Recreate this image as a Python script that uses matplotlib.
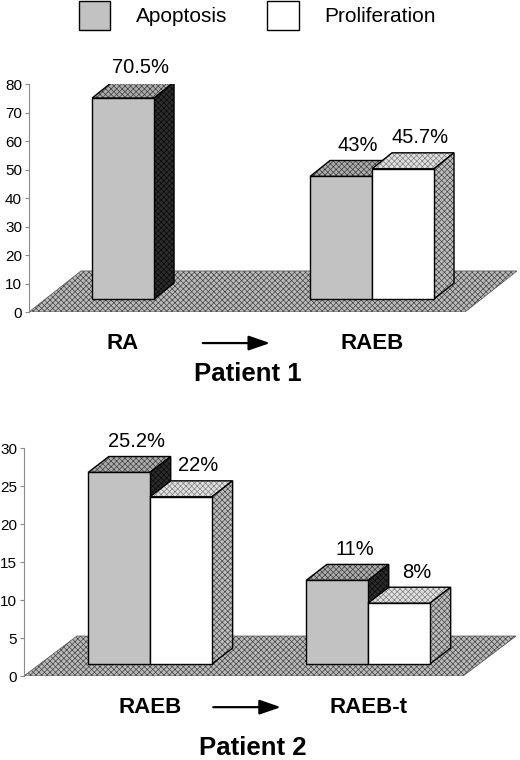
import matplotlib
matplotlib.use("Agg")
import matplotlib.pyplot as plt
from matplotlib.patches import Polygon, Patch

plt.rcParams['font.family'] = ['Liberation Sans', 'DejaVu Sans']
plt.rcParams['hatch.linewidth'] = 0.5

# data
series = ["Apoptosis", "Proliferation"]
p1_stages = ["RA", "RAEB"]
p1_apoptosis = [70.5, 43.0]
p1_proliferation = [None, 45.7]
p1_ticks = [0, 10, 20, 30, 40, 50, 60, 70, 80]
p2_stages = ["RAEB", "RAEB-t"]
p2_apoptosis = [25.2, 11.0]
p2_proliferation = [22.0, 8.0]
p2_ticks = [0, 5, 10, 15, 20, 25, 30]

# styles: (face, hatch colour)
FRONT = {"Apoptosis": ("#c2c2c2", None), "Proliferation": ("#ffffff", None)}
TOP = {"Apoptosis": ("#acacac", "#404040"), "Proliferation": ("#e0e0e0", "#808080")}
SIDE = {"Apoptosis": ("#2c2c2c", "#0a0a0a"), "Proliferation": ("#bcbcbc", "#4a4a4a")}
FLOOR = ("#bababa", "#454545")


def face(ax, pts, style, edge=True, z=2):
    fc, hc = style
    if hc is None:
        ax.add_patch(Polygon(pts, closed=True, facecolor=fc, edgecolor="black",
                             lw=1.0 if edge else 0, zorder=z))
        return
    ax.add_patch(Polygon(pts, closed=True, facecolor=fc, edgecolor=hc,
                         hatch="xxxxxx", lw=0, zorder=z))
    ax.add_patch(Polygon(pts, closed=True, fill=False,
                         edgecolor="black" if edge else "#606060",
                         lw=1.0 if edge else 0.6, zorder=z))


def box(ax, xc, w, base, h, dx, dy, name, z):
    xl, xr, top = xc - w / 2, xc + w / 2, base + h
    face(ax, [(xl, top), (xr, top), (xr + dx, top + dy), (xl + dx, top + dy)], TOP[name], z=z)
    face(ax, [(xr, base), (xr + dx, base + dy), (xr + dx, top + dy), (xr, top)], SIDE[name], z=z)
    face(ax, [(xl, base), (xr, base), (xr, top), (xl, top)], FRONT[name], z=z)


def panel(ax, stages, apo, pro, ticks, xlim, w, base, dx, dy, floor, stage_y,
          arrow_x, title, title_x, title_y):
    ax.set_xlim(*xlim)
    ax.set_ylim(ticks[0], ticks[-1])
    for s in ["top", "right", "bottom"]:
        ax.spines[s].set_visible(False)
    ax.spines["left"].set_color("#8a8a8a")
    ax.spines["left"].set_linewidth(0.8)
    ax.set_xticks([])
    ax.set_yticks(ticks)
    ax.tick_params(axis="y", length=3, width=0.8, color="#8a8a8a", labelsize=11, pad=2)

    # floor
    fx1, fsh, fdepth = floor
    face(ax, [(xlim[0], 0), (fx1, 0), (fx1 + fsh, fdepth), (xlim[0] + fsh, fdepth)],
         FLOOR, edge=False, z=1)

    z = 3
    for i, stage in enumerate(stages):
        vals = [("Apoptosis", apo[i]), ("Proliferation", pro[i])]
        vals = [(n, v) for n, v in vals if v is not None]
        offsets = [0.0] if len(vals) == 1 else [-w / 2, w / 2]
        for (name, v), off in zip(vals, offsets):
            xc = i + off
            box(ax, xc, w, base, v, dx, dy, name, z)
            ax.annotate(f"{v:g}%", (xc + dx / 2, base + v + dy), xytext=(5, 4),
                        textcoords="offset points", ha="center", va="bottom",
                        fontsize=14.5, zorder=10, annotation_clip=False)
            z += 1
        ax.text(i, stage_y, stage, ha="center", va="center", fontsize=16,
                fontweight="bold", clip_on=False)

    ax.annotate("", xy=(arrow_x[1], stage_y), xytext=(arrow_x[0], stage_y),
                annotation_clip=False,
                arrowprops=dict(arrowstyle="-|>,head_length=1.3,head_width=0.45",
                                color="black", lw=1.6, shrinkA=0, shrinkB=0))
    ax.text(title_x, title_y, title, ha="center", va="center", fontsize=18.5,
            fontweight="bold", clip_on=False)


fig = plt.figure(figsize=(5.2, 7.6), dpi=100)
ax1 = fig.add_axes([29 / 520, 448 / 760, 491 / 520, 228 / 760])
ax2 = fig.add_axes([24 / 520, 84 / 760, 496 / 520, 228 / 760])

panel(ax1, p1_stages, p1_apoptosis, p1_proliferation, p1_ticks,
      xlim=(-0.378, 1.594), w=0.249, base=4.56, dx=0.080, dy=5.6,
      floor=(1.373, 0.209, 14.4), stage_y=-10.9, arrow_x=(0.32, 0.59),
      title="Patient 1", title_x=0.5, title_y=-21.8)

panel(ax2, p2_stages, p2_apoptosis, p2_proliferation, p2_ticks,
      xlim=(-0.578, 1.697), w=0.284, base=1.58, dx=0.095, dy=2.1,
      floor=(1.436, 0.243, 5.26), stage_y=-4.1, arrow_x=(0.29, 0.60),
      title="Patient 2", title_x=0.47, title_y=-9.5)

handles = [Patch(facecolor=FRONT[s][0], edgecolor="black", lw=1.0) for s in series]
fig.legend(handles, series, ncol=2, loc="upper left", bbox_to_anchor=(79 / 520, 1 - 1 / 760),
           frameon=False, fontsize=15, handlelength=1.5, handleheight=1.75,
           handletextpad=1.25, columnspacing=1.9, borderpad=0, borderaxespad=0)

fig.savefig("out.png", dpi=100)
